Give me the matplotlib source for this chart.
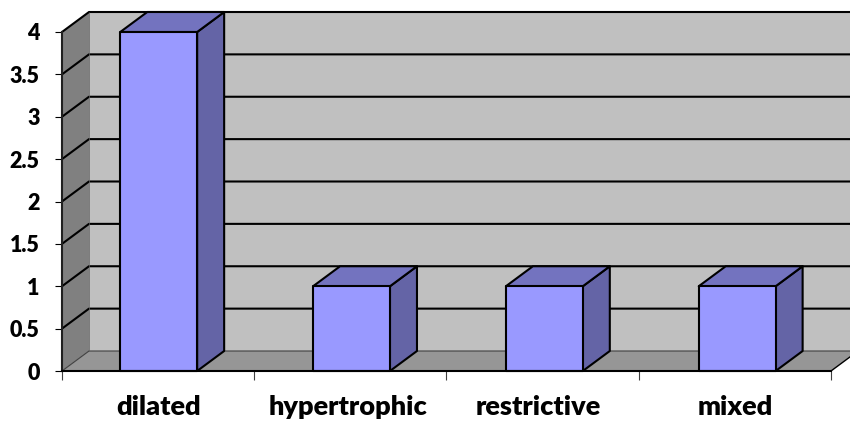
import matplotlib
matplotlib.use("Agg")
import matplotlib.pyplot as plt
from matplotlib.patches import Polygon
from matplotlib.transforms import ScaledTranslation

categories = ["dilated", "hypertrophic", "restrictive", "mixed"]
values = [4, 1, 1, 1]
y_ticks = [0, 0.5, 1, 1.5, 2, 2.5, 3, 3.5, 4]
y_labels = ["0", "0.5", "1", "1.5", "2", "2.5", "3", "3.5", "4"]

W, H = 850, 421
L, R, T, B = 62, 831, 32, 371
plt.rcParams["font.family"] = ["Lato", "DejaVu Sans"]
WEIGHT = 800

fig = plt.figure(figsize=(W / 100, H / 100), dpi=100, facecolor="white")
ax = fig.add_axes([L / W, 1 - B / H, (R - L) / W, (B - T) / H])
n = len(categories)
ymax = max(y_ticks)
ax.set_xlim(0, n)
ax.set_ylim(0, ymax)
ax.patch.set_visible(False)

# oblique depth, in data units
DX = 27 / ((R - L) / n)
DY = 20 / ((B - T) / ymax)
BAR_W = 0.4
LW = 1.5
INK = "#000000"


def poly(pts, fc, z, ec="none", lw=0):
    ax.add_patch(Polygon(pts, closed=True, fc=fc, ec=ec, lw=lw, zorder=z,
                         clip_on=False, joinstyle="round"))


def line(xs, ys, z, lw=LW, c=INK):
    ax.plot(xs, ys, color=c, lw=lw, zorder=z, clip_on=False, solid_capstyle="butt")


# walls and floor
xr = n + DX
poly([(DX, DY), (xr, DY), (xr, ymax + DY), (DX, ymax + DY)], "#C0C0C0", 1)
poly([(0, 0), (DX, DY), (DX, ymax + DY), (0, ymax)], "#808080", 1)
poly([(0, 0), (n, 0), (xr, DY), (DX, DY)], "#969696", 1)

# gridlines on side wall and back wall
for t in y_ticks:
    line([0, DX, xr], [t, t + DY, t + DY], 2,
         lw=0.8 if t == 0 else LW, c="#404040" if t == 0 else INK)
line([DX, DX], [DY, ymax + DY], 2, lw=0.5, c="#606060")
line([n, xr], [0, DY], 2, lw=1.0)

# bars
for i, v in enumerate(values):
    x0 = i + 0.5 - BAR_W / 2 + 0.003 * (i + 1)
    x1 = x0 + BAR_W
    poly([(x1, 0), (x1 + DX, DY), (x1 + DX, v + DY), (x1, v)], "#6464A6", 3, INK, LW)
    poly([(x0, v), (x1, v), (x1 + DX, v + DY), (x0 + DX, v + DY)], "#7373BF", 3, INK, LW)
    poly([(x0, 0), (x1, 0), (x1, v), (x0, v)], "#9999FF", 4, INK, LW)

# axes
for s in ("top", "right"):
    ax.spines[s].set_visible(False)
for s in ("left", "bottom"):
    ax.spines[s].set_linewidth(LW)
    ax.spines[s].set_zorder(5)
ax.spines["left"].set_color("#202020")
ax.set_yticks(y_ticks)
ax.set_yticklabels(y_labels, fontsize=15.5, fontweight=WEIGHT)
ax.set_xticks(range(n + 1))
ax.set_xticklabels([""] * (n + 1))
ax.set_xticks([i + 0.5 for i in range(n)], minor=True)
ax.set_xticklabels(categories, minor=True, fontsize=19.5, fontweight=WEIGHT)
ax.tick_params(axis="y", length=5, width=0.8, pad=11)
ax.tick_params(axis="x", which="major", length=6.5, width=0.8, color="#404040")
ax.tick_params(axis="x", which="minor", length=0, pad=17.5)

# small horizontal nudges of the category labels, in pixels
nudges = [0, -2, -4, 0]
for lab, d in zip(ax.get_xticklabels(minor=True), nudges):
    lab.set_transform(lab.get_transform() + ScaledTranslation(d / 100, 0, fig.dpi_scale_trans))

fig.savefig("out.png", dpi=100, facecolor="white")
